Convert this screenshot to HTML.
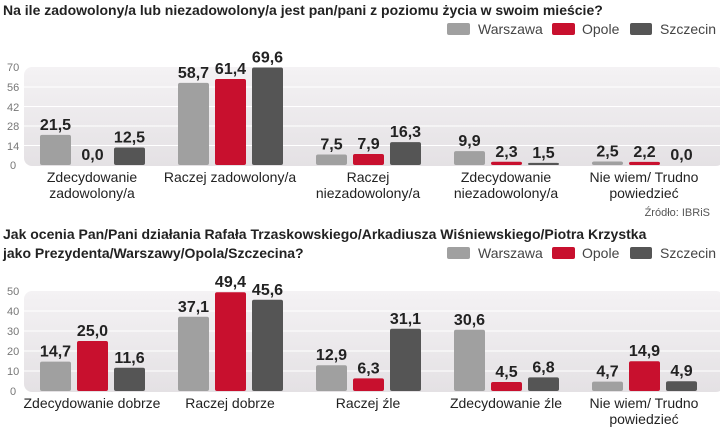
<!DOCTYPE html>
<html><head><meta charset="utf-8"><style>
body{margin:0;background:#fff}
svg{display:block}
.t{font:bold 14px "Liberation Sans Narrow","Liberation Sans",sans-serif;fill:#222}
.lg{font:14px "Liberation Sans Narrow","Liberation Sans",sans-serif;fill:#444}
.ax{font:11px "Liberation Sans",sans-serif;fill:#777}
.v{font:bold 16px "Liberation Sans Narrow","Liberation Sans",sans-serif;fill:#222;text-anchor:middle}
.c{font:14px "Liberation Sans",sans-serif;fill:#222;text-anchor:middle}
</style></head><body>
<svg width="720" height="428" viewBox="0 0 720 428">
<defs><linearGradient id="g" x1="0" y1="0" x2="0" y2="1"><stop offset="0" stop-color="#f4f2f4"/><stop offset="1" stop-color="#e4e1e4"/></linearGradient></defs>
<text class="t" x="3" y="15">Na ile zadowolony/a lub niezadowolony/a jest pan/pani z poziomu życia w swoim mieście?</text>
<g id="leg1">
<rect x="447" y="23" width="23" height="12" rx="2" fill="#a0a0a0"/><text class="lg" x="478" y="34">Warszawa</text>
<rect x="552" y="23" width="23" height="12" rx="2" fill="#c8102e"/><text class="lg" x="582" y="34">Opole</text>
<rect x="630" y="23" width="22" height="12" rx="2" fill="#555"/><text class="lg" x="660" y="34">Szczecin</text>
</g>
<rect x="24" y="67" width="700" height="99" rx="8" fill="url(#g)"/>
<g stroke="#fff" stroke-width="1"><line x1="24" x2="720" y1="87" y2="87"/><line x1="24" x2="720" y1="106.5" y2="106.5"/><line x1="24" x2="720" y1="126" y2="126"/><line x1="24" x2="720" y1="145.5" y2="145.5"/></g>
<g class="ax"><text x="7" y="71">70</text><text x="7" y="91">56</text><text x="7" y="111">42</text><text x="7" y="130">28</text><text x="7" y="150">14</text><text x="10" y="169">0</text></g>
<g id="b1"></g>
<text class="t" x="710" y="216" text-anchor="end" style="font-weight:normal;font-size:11px;fill:#555">Źródło: IBRiS</text>

<text class="t" x="3" y="239">Jak ocenia Pan/Pani działania Rafała Trzaskowskiego/Arkadiusza Wiśniewskiego/Piotra Krzystka</text>
<text class="t" x="3" y="258">jako Prezydenta/Warszawy/Opola/Szczecina?</text>
<rect x="447" y="247" width="23" height="12" rx="2" fill="#a0a0a0"/><text class="lg" x="478" y="258">Warszawa</text>
<rect x="552" y="247" width="23" height="12" rx="2" fill="#c8102e"/><text class="lg" x="582" y="258">Opole</text>
<rect x="630" y="247" width="22" height="12" rx="2" fill="#555"/><text class="lg" x="660" y="258">Szczecin</text>
<rect x="24" y="291" width="700" height="101" rx="8" fill="url(#g)"/>
<g stroke="#fff"><line x1="24" x2="720" y1="311" y2="311"/><line x1="24" x2="720" y1="331" y2="331"/><line x1="24" x2="720" y1="351" y2="351"/><line x1="24" x2="720" y1="371" y2="371"/></g>
<g class="ax"><text x="7" y="295">50</text><text x="7" y="315">40</text><text x="7" y="335">30</text><text x="7" y="355">20</text><text x="7" y="375">10</text><text x="10" y="395">0</text></g>
<g id="b2"></g>
</svg>
<script>
var cols=["#a0a0a0","#c8102e","#555"];
function draw(id,data,base,sc,labels,ly){
 var g=document.getElementById(id),s="";
 data.forEach(function(grp,i){
  grp.forEach(function(v,j){
   var x=40+i*138+j*37,h=Math.max(v*sc,v>0?1.5:0),y=base-h;
   if(v>0)s+='<rect x="'+x+'" y="'+y+'" width="31" height="'+h+'" rx="2" fill="'+cols[j]+'"/>';
   s+='<text class="v" x="'+(x+15.5)+'" y="'+(y-5)+'">'+v.toFixed(1).replace('.',',')+'</text>';
  });
  labels[i].forEach(function(l,k){s+='<text class="c" x="'+(40+i*138+52)+'" y="'+(ly+k*16)+'">'+l+'</text>';});
 });
 g.innerHTML=s;
}
draw("b1",[[21.5,0,12.5],[58.7,61.4,69.6],[7.5,7.9,16.3],[9.9,2.3,1.5],[2.5,2.2,0]],165,1.4,
 [["Zdecydowanie","zadowolony/a"],["Raczej zadowolony/a"],["Raczej","niezadowolony/a"],["Zdecydowanie","niezadowolony/a"],["Nie wiem/ Trudno","powiedzieć"]],182);
draw("b2",[[14.7,25,11.6],[37.1,49.4,45.6],[12.9,6.3,31.1],[30.6,4.5,6.8],[4.7,14.9,4.9]],391,2,
 [["Zdecydowanie dobrze"],["Raczej dobrze"],["Raczej źle"],["Zdecydowanie źle"],["Nie wiem/ Trudno","powiedzieć"]],408);
</script>
</body></html>
